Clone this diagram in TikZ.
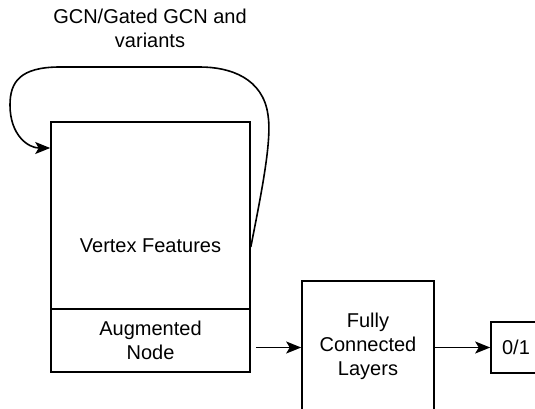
\documentclass[tikz,border=0pt]{standalone}
\usepackage{fontspec}
\setmainfont{Liberation Sans}
\usetikzlibrary{arrows.meta}
\begin{document}
\begin{tikzpicture}[x=1pt,y=-1pt,
  box/.style={draw,line width=1.6pt,inner sep=0pt,align=center,font=\fontsize{20}{24}\selectfont},
  lbl/.style={inner sep=0pt,align=center,font=\fontsize{20}{24}\selectfont},
  conn/.style={line width=1.6pt,-{Stealth[length=15pt,width=12pt,inset=3.5pt]}}]
\useasboundingbox (0,0) rectangle (535,408);
\clip (0,0) rectangle (535,408);
\node[lbl] (title) at (150,28) {GCN/Gated GCN and\\variants};
\node[box,minimum width=199pt,minimum height=187pt] (vf) at (150.5,215.5) {};
\node[lbl] (vft) at (150.5,246) {Vertex Features};
\node[box,minimum width=199pt,minimum height=63pt] (an) at (150.5,340.5) {Augmented\\Node};
\node[box,minimum width=132pt,minimum height=133pt] (fc) at (368,347.5) {};
\node[lbl] (fct) at (368,346) {Fully\\Connected\\Layers};
\node[box,minimum width=56pt,minimum height=51pt] (out) at (519,347.5) {};
\node[lbl] (outt) at (516,347) {0/1};
\draw[conn] ([xshift=5pt]an.east |- fc.west) -- (fc.west);
\draw[conn] (fc.east) -- (out.west);
\draw[conn] ([yshift=-31.5pt]vf.east) .. controls (262,190) and (272,140) .. (268,115)
  .. controls (263,78) and (230,67) .. (200,67) -- (60,67)
  .. controls (20,67) and (10,82) .. (10,105)
  .. controls (10,135) and (28,148) .. ([yshift=67.5pt]vf.west);
\end{tikzpicture}
\end{document}
